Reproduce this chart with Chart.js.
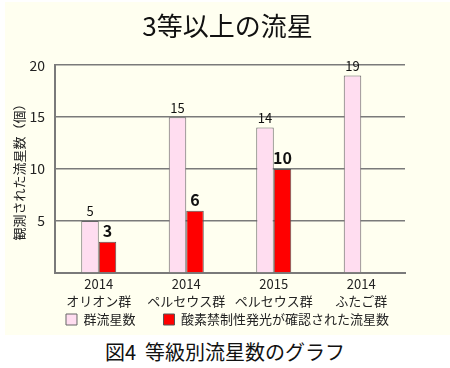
<!DOCTYPE html>
<html>
<head>
<meta charset="utf-8">
<script src="https://cdn.jsdelivr.net/npm/chart.js@4/dist/chart.umd.min.js"></script>
<style>
  body { margin: 0; background: #fff; font-family: "Noto Sans CJK JP", sans-serif; }
  #panel { position: absolute; left: 5px; top: 2px; width: 445px; height: 333px; background: #fffff0; }
  #caption { position: absolute; left: 0; top: 336px; width: 450px; text-align: center;
             font-size: 20px; color: #111; line-height: 32px; }
</style>
</head>
<body>
<div id="panel"><canvas id="myChart" width="445" height="333"></canvas></div>
<div id="caption">図4&nbsp;&nbsp;等級別流星数のグラフ</div>
<script>
const categories = [['2014', 'オリオン群'], ['2014', 'ペルセウス群'], ['2015', 'ペルセウス群'], ['2014', 'ふたご群']];
const showerCounts = [5, 15, 14, 19];
const oxygenCounts = [3, 6, 10, null];
const yTicks = [0, 5, 10, 15, 20];

const font = '"Noto Sans CJK JP", sans-serif';

// simple value labels above the bars
const valueLabels = {
    id: 'valueLabels',
    afterDatasetsDraw(chart) {
        const ctx = chart.ctx;
        ctx.save();
        ctx.textAlign = 'center';
        ctx.textBaseline = 'bottom';
        chart.data.datasets.forEach((ds, i) => {
            chart.getDatasetMeta(i).data.forEach((bar, j) => {
                if (ds.data[j] == null) return;
                ctx.font = i === 0 ? '13px ' + font : 'bold 16px ' + font;
                ctx.fillStyle = '#111';
                ctx.fillText(ds.data[j], bar.x, bar.y - 3);
            });
        });
        ctx.restore();
    }
};

// legend: wide gaps between items but only a thin strip at the bottom
const legendFix = {
    id: 'legendFix',
    beforeLayout(chart) {
        const lg = chart.legend;
        if (!lg || lg._patched) return;
        const fit = lg.fit;
        const draw = lg.draw;
        lg.fit = function () { fit.call(this); this.height = 24; };
        lg.draw = function (area) {
            const top = this.top;
            this.top = top - 26;
            draw.call(this, area);
            this.top = top;
        };
        lg._patched = true;
    }
};

let myChart = new Chart(document.getElementById('myChart').getContext('2d'), {
    type: 'bar',
    data: {
        labels: categories,
        datasets: [{
            label: '群流星数',
            data: showerCounts,
            backgroundColor: '#ffddf0',
            borderColor: '#666',
            borderWidth: 1
        }, {
            label: '酸素禁制性発光が確認された流星数',
            data: oxygenCounts,
            backgroundColor: '#ff0000',
            borderColor: '#555',
            borderWidth: 1
        }]
    },
    options: {
        responsive: false,
        animation: false,
        layout: { padding: 0 },
        datasets: { bar: { categoryPercentage: 0.4, barPercentage: 1.0 } },
        plugins: {
            title: {
                display: true,
                text: '3等以上の流星',
                color: '#111',
                font: { family: font, size: 26, weight: 'normal' },
                padding: { top: 9, bottom: 23 }
            },
            legend: {
                position: 'bottom',
                labels: {
                    color: '#222',
                    font: { family: font, size: 13 },
                    boxWidth: 11,
                    boxHeight: 11,
                    padding: 28
                }
            },
            tooltip: { enabled: false }
        },
        scales: {
            x: {
                grid: { display: false, drawTicks: false },
                border: { color: '#7a7a7a', width: 2 },
                ticks: { color: '#222', font: { family: font, size: 13, lineHeight: 1.3 }, padding: 3 },
                afterFit: s => { s.height = 38; }
            },
            y: {
                min: 0,
                max: 20,
                afterBuildTicks: s => { s.ticks = yTicks.map(v => ({ value: v })); },
                ticks: {
                    color: '#222',
                    font: { family: font, size: 14 },
                    padding: 10,
                    callback: v => v === 0 ? '' : v
                },
                grid: { color: '#7a7a7a', lineWidth: 1.5, drawTicks: false },
                border: { color: '#7a7a7a', width: 2 },
                title: {
                    display: true,
                    text: '観測された流星数（個）',
                    color: '#222',
                    font: { family: font, size: 13 },
                    padding: { top: 6, bottom: 0 }
                },
                afterFit: s => { s.width = 50; }
            },
            // empty right axis, only reserves the margin on the right
            yRight: {
                position: 'right',
                grid: { display: false },
                border: { display: false },
                ticks: { display: false },
                afterFit: s => { s.width = 45; }
            }
        }
    },
    plugins: [valueLabels, legendFix]
});
</script>
</body>
</html>
